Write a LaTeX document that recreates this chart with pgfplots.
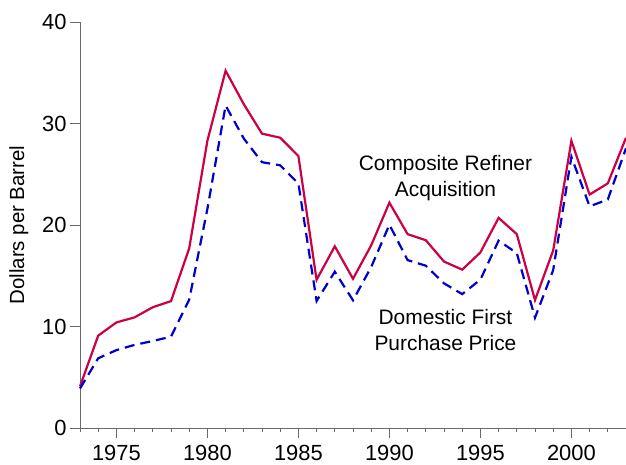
\documentclass[border=0pt]{standalone}
\usepackage{fontspec}
\setmainfont{Liberation Sans}
\usepackage{pgfplots}
\pgfplotsset{compat=1.18}
\definecolor{redline}{RGB}{204,0,68}
\definecolor{blueline}{RGB}{0,0,204}
\definecolor{axisgray}{RGB}{105,105,105}
\begin{document}
\begin{tikzpicture}
\begin{axis}[
  scale only axis, width=546bp, height=406bp,
  xmin=1973, xmax=2003, ymin=0, ymax=40,
  axis x line*=bottom, axis y line*=left,
  axis line style={axisgray, line width=0.8bp},
  xtick={1975,1980,1985,1990,1995,2000},
  minor xtick={1973,...,2003},
  ytick={0,10,20,30,40},
  tick align=outside,
  tick style={axisgray, line width=0.8bp},
  major tick length=10bp, minor tick length=4bp,
  /pgf/number format/assume math mode=true,
  /pgf/number format/1000 sep={},
  ticklabel style={font=\fontsize{22}{26}\selectfont},
  xticklabel style={yshift=-4bp},
  ylabel={Dollars per Barrel},
  ylabel style={font=\fontsize{20.5}{24}\selectfont, at={(axis description cs:-0.112,0.5)}, anchor=center},
  clip=false,
]
\addplot[redline, line width=2.2bp] coordinates {
(1973,4.1) (1974,9.1) (1975,10.4) (1976,10.9) (1977,11.9) (1978,12.5)
(1979,17.7) (1980,28.3) (1981,35.2) (1982,31.9) (1983,29.0) (1984,28.6)
(1985,26.8) (1986,14.6) (1987,17.9) (1988,14.7) (1989,18.0) (1990,22.2)
(1991,19.1) (1992,18.5) (1993,16.4) (1994,15.6) (1995,17.3) (1996,20.7)
(1997,19.1) (1998,12.6) (1999,17.5) (2000,28.3) (2001,23.0) (2002,24.1)
(2003,28.6)};
\addplot[blueline, line width=2.2bp, dash pattern=on 10bp off 6bp] coordinates {
(1973,3.89) (1974,6.87) (1975,7.67) (1976,8.19) (1977,8.57) (1978,9.00)
(1979,12.64) (1980,21.59) (1981,31.77) (1982,28.52) (1983,26.19) (1984,25.88)
(1985,24.09) (1986,12.51) (1987,15.40) (1988,12.58) (1989,15.86) (1990,20.03)
(1991,16.54) (1992,15.99) (1993,14.25) (1994,13.19) (1995,14.62) (1996,18.46)
(1997,17.23) (1998,10.87) (1999,15.56) (2000,26.72) (2001,21.84) (2002,22.51)
(2003,27.56)};
\node[align=center, font=\fontsize{21}{26}\selectfont] at (axis cs:1993.08,24.63) {Composite Refiner\\Acquisition};
\node[align=center, font=\fontsize{21}{26}\selectfont] at (axis cs:1993.08,9.66) {Domestic First\\Purchase Price};
\end{axis}
\pgfresetboundingbox
\path[use as bounding box] (-80bp,-37bp) rectangle (546bp,428bp);
\end{tikzpicture}
\end{document}
